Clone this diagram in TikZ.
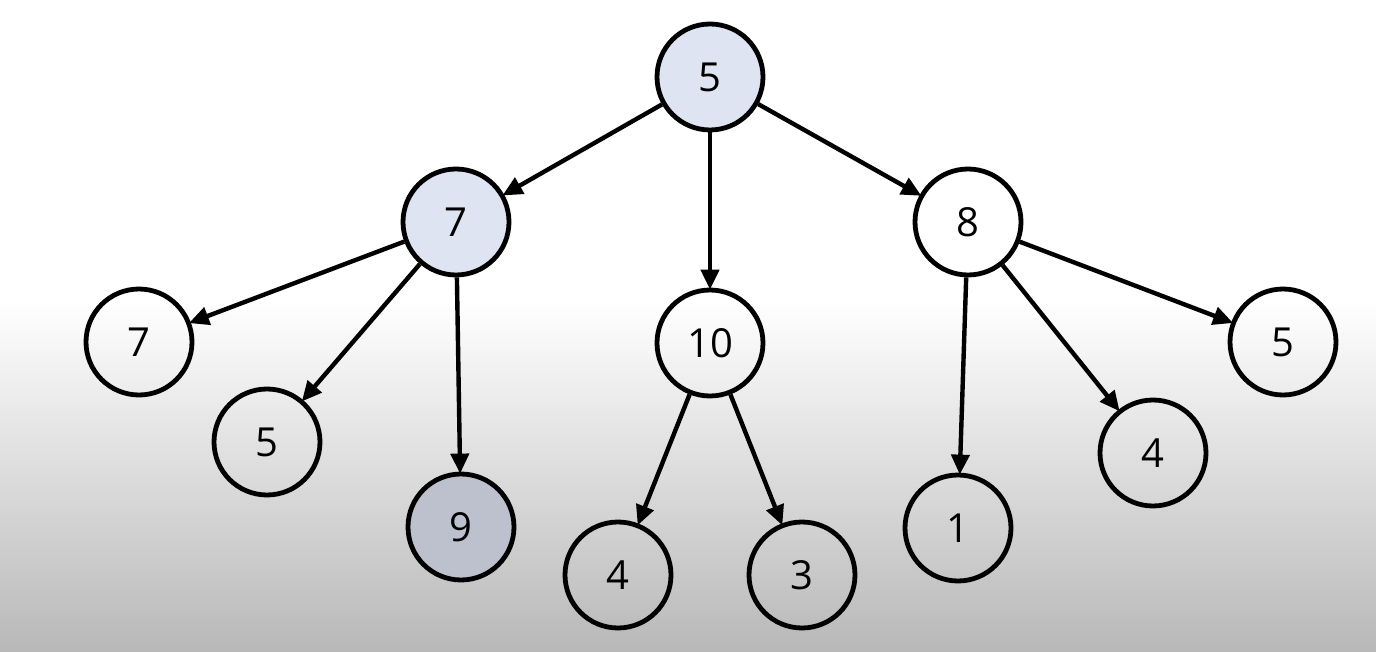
\documentclass[tikz,border=0pt]{standalone}
\usepackage{fontspec}
\setmainfont{Open Sans}
\usetikzlibrary{arrows.meta}
\definecolor{nodeblue}{HTML}{DFE4F2}
\definecolor{nodedark}{HTML}{BCC1CD}
\definecolor{bggray}{HTML}{B8B8B8}
\tikzset{
  tn/.style={circle, draw=black, line width=2.4pt, minimum size=53pt, inner sep=0pt, font=\fontsize{20}{24}\selectfont},
  hl/.style={fill=nodeblue},
  dk/.style={fill=nodedark},
  edge/.style={line width=2.2pt, -{Triangle[length=10pt, width=9pt]}, shorten >=-1pt}
}
\begin{document}
\begin{tikzpicture}[x=0.5pt, y=-0.5pt]
\useasboundingbox (0,0) rectangle (1376,652);
\fill[white] (0,0) rectangle (1376,300);
\shade[top color=white, bottom color=bggray] (0,300) rectangle (1376,652);
\node[tn, hl] (r) at (710,77) {5};
\node[tn, hl] (a) at (456,222) {7};
\node[tn] (b) at (710,343) {10};
\node[tn] (c) at (968,222) {8};
\node[tn] (a1) at (139,342) {7};
\node[tn] (a2) at (267,442) {5};
\node[tn, dk] (a3) at (461,527) {9};
\node[tn] (b1) at (618,575) {4};
\node[tn] (b2) at (802,575) {3};
\node[tn] (c1) at (958,528) {1};
\node[tn] (c2) at (1153,453) {4};
\node[tn] (c3) at (1283,342) {5};
\draw[edge] (r) -- (a);
\draw[edge] (r) -- (b);
\draw[edge] (r) -- (c);
\draw[edge] (a) -- (a1);
\draw[edge] (a) -- (a2);
\draw[edge] (a) -- (a3);
\draw[edge] (b) -- (b1);
\draw[edge] (b) -- (b2);
\draw[edge] (c) -- (c1);
\draw[edge] (c) -- (c2);
\draw[edge] (c) -- (c3);
\end{tikzpicture}
\end{document}
